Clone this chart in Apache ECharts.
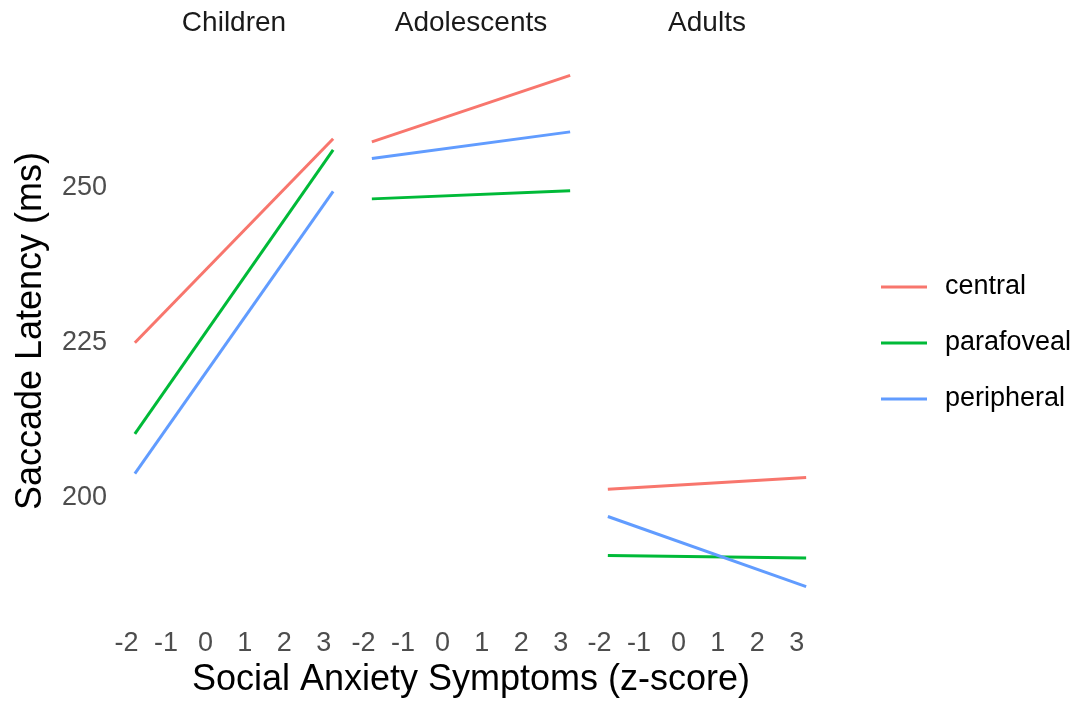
<!DOCTYPE html>
<html>
<head>
<meta charset="utf-8">
<script src="https://cdn.jsdelivr.net/npm/echarts@6/dist/echarts.min.js"></script>
<style>
html,body{margin:0;padding:0;background:#fff;}
#chart{width:1084px;height:703px;}
</style>
</head>
<body>
<div id="chart"></div>
<script>
// ---- data ----
var facets = ['Children', 'Adolescents', 'Adults'];
var groups = ['central', 'parafoveal', 'peripheral'];
var xRange = [-1.79, 3.24];            // observed z-score range (line endpoints)
var xTicks = [-2, -1, 0, 1, 2, 3];
var yTicks = [200, 225, 250];
// fitted saccade latency at xRange[0] and xRange[1], per facet
var central    = [[225.0, 257.9], [257.4, 268.1], [201.4, 203.3]];
var parafoveal = [[210.3, 256.1], [248.2, 249.5], [190.7, 190.3]];
var peripheral = [[203.9, 249.4], [254.7, 259.0], [197.0, 185.7]];

// ---- layout / style ----
var colors = {central: '#F8766D', parafoveal: '#00BA38', peripheral: '#619CFF'};
var values = {central: central, parafoveal: parafoveal, peripheral: peripheral};
var FONT = '"Liberation Sans", Arial, Helvetica, sans-serif';
var gridLeft = [125, 362, 598], gridW = 218, gridTop = 50, gridH = 562;
var xMin = -2.04, xMax = 3.49, yMin = 181.6, yMax = 272.2;

var grids = [], xAxes = [], yAxes = [], series = [], graphics = [];
facets.forEach(function (f, i) {
  grids.push({left: gridLeft[i], top: gridTop, width: gridW, height: gridH});
  xAxes.push({
    type: 'value', gridIndex: i, min: xMin, max: xMax,
    axisLine: {show: false}, axisTick: {show: false}, splitLine: {show: false},
    axisLabel: {customValues: xTicks, fontSize: 27, color: '#4D4D4D', fontFamily: FONT, margin: 18},
    name: i === 1 ? 'Social Anxiety Symptoms (z-score)' : '',
    nameLocation: 'middle', nameGap: 47,
    nameTextStyle: {fontSize: 36, color: '#000', fontFamily: FONT}
  });
  yAxes.push({
    type: 'value', gridIndex: i, min: yMin, max: yMax,
    axisLine: {show: false}, axisTick: {show: false}, splitLine: {show: false},
    axisLabel: {show: i === 0, customValues: yTicks, fontSize: 27, color: '#4D4D4D', fontFamily: FONT, margin: 18},
    name: i === 0 ? 'Saccade Latency (ms)' : '',
    nameLocation: 'middle', nameGap: 76,
    nameTextStyle: {fontSize: 36, color: '#000', fontFamily: FONT}
  });
  groups.forEach(function (g) {
    series.push({
      type: 'line', name: g, xAxisIndex: i, yAxisIndex: i,
      data: [[xRange[0], values[g][i][0]], [xRange[1], values[g][i][1]]],
      symbol: 'none', showSymbol: false, silent: true,
      color: colors[g],
      lineStyle: {width: 3, color: colors[g]}
    });
  });
  graphics.push({
    type: 'text', x: gridLeft[i] + gridW / 2, y: 23,
    style: {text: f, fill: '#1A1A1A', font: '28px ' + FONT, align: 'center', verticalAlign: 'middle'}
  });
});

var chart = echarts.init(document.getElementById('chart'), null, {renderer: 'canvas'});
chart.setOption({
  animation: false,
  backgroundColor: '#fff',
  grid: grids,
  xAxis: xAxes,
  yAxis: yAxes,
  series: series,
  graphic: graphics,
  legend: {
    data: groups, orient: 'vertical', left: 876, top: 268,
    icon: 'rect', itemWidth: 46, itemHeight: 3, itemGap: 28,
    textStyle: {fontSize: 27, lineHeight: 28, color: '#000', fontFamily: FONT, padding: [0, 0, 0, 13]}
  }
});
</script>
</body>
</html>
